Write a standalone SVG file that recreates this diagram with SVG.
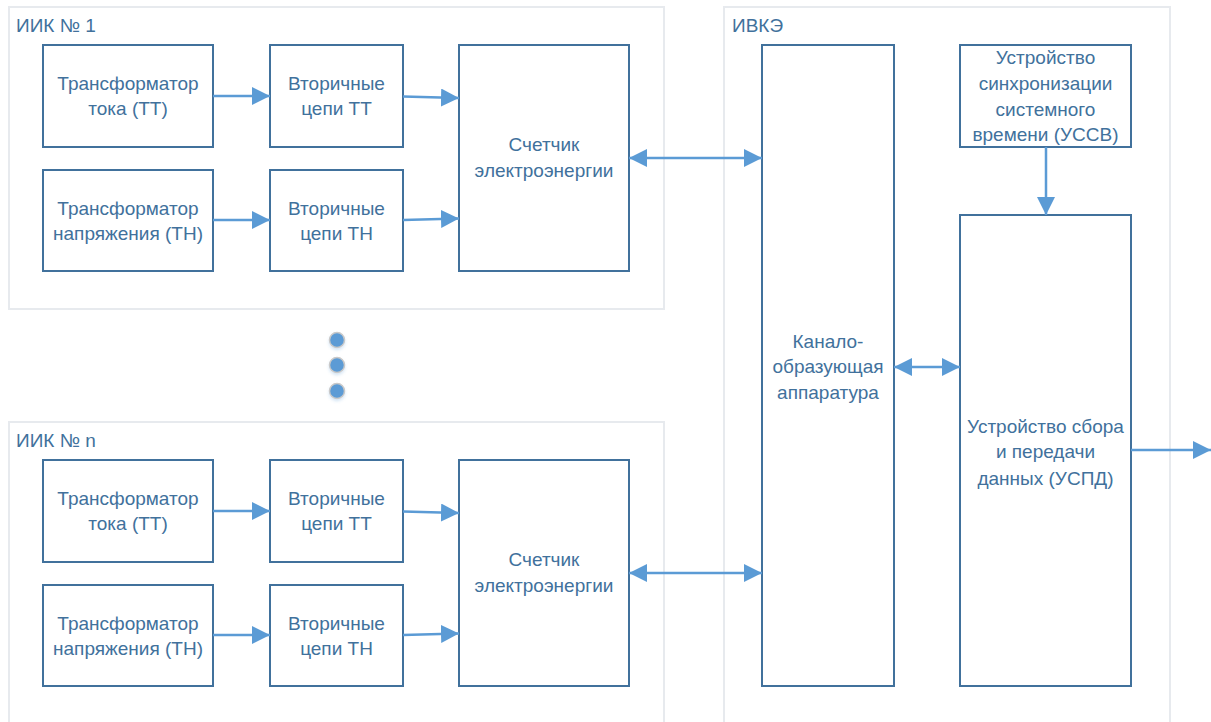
<svg xmlns="http://www.w3.org/2000/svg" width="1211" height="722" viewBox="0 0 1211 722">
<defs>
<style>
.cont{fill:#ffffff;stroke:#e7eaee;stroke-width:2}
.box{fill:#ffffff;stroke:#41719c;stroke-width:2}
.t{font-family:"Liberation Sans",Arial,sans-serif;font-size:19px;fill:#41719c;text-anchor:middle}
.title{font-family:"Liberation Sans",Arial,sans-serif;font-size:19px;fill:#41719c}
.c{stroke:#5b9bd5;stroke-width:2.5;fill:none}
.dot{fill:#5b9bd5;stroke:#c9c9c9;stroke-width:1.5}
</style>
<marker id="ah" markerWidth="18" markerHeight="18" refX="18" refY="9" orient="auto-start-reverse" markerUnits="userSpaceOnUse">
<path d="M0,0 L18,9 L0,18 z" fill="#5b9bd5"/>
</marker>
<filter id="sh" x="-50%" y="-50%" width="200%" height="200%">
<feGaussianBlur in="SourceAlpha" stdDeviation="1.5"/>
<feOffset dx="0" dy="2" result="b"/>
<feFlood flood-color="#5b9bd5" flood-opacity="0.25"/>
<feComposite in2="b" operator="in"/>
<feMerge><feMergeNode/><feMergeNode in="SourceGraphic"/></feMerge>
</filter>
</defs>
<rect width="1211" height="722" fill="#ffffff"/>

<g id="iik1">
<rect class="cont" x="9" y="7" width="655" height="302"/>
<text class="title" x="16" y="32">ИИК № 1</text>
</g>
<g id="iikn">
<rect class="cont" x="9" y="422" width="655" height="310"/>
<text class="title" x="16" y="447">ИИК № n</text>
</g>
<g id="ivke">
<rect class="cont" x="724" y="7" width="446" height="725"/>
<text class="title" x="732" y="32">ИВКЭ</text>
</g>

<g id="tt1"><rect class="box" x="43" y="45" width="170" height="102"/>
<text class="t" x="128" y="90">Трансформатор</text><text class="t" x="128" y="115">тока (ТТ)</text></g>
<g id="vtt1"><rect class="box" x="270" y="45" width="133" height="102"/>
<text class="t" x="336.5" y="90">Вторичные</text><text class="t" x="336.5" y="115">цепи ТТ</text></g>
<g id="tn1"><rect class="box" x="43" y="170" width="170" height="101"/>
<text class="t" x="128" y="215">Трансформатор</text><text class="t" x="128" y="240">напряжения (ТН)</text></g>
<g id="vtn1"><rect class="box" x="270" y="170" width="133" height="101"/>
<text class="t" x="336.5" y="215">Вторичные</text><text class="t" x="336.5" y="240">цепи ТН</text></g>
<g id="sch1"><rect class="box" x="459" y="45" width="170" height="226"/>
<text class="t" x="544" y="151">Счетчик</text><text class="t" x="544" y="177">электроэнергии</text></g>

<g id="ttn"><rect class="box" x="43" y="460" width="170" height="102"/>
<text class="t" x="128" y="505">Трансформатор</text><text class="t" x="128" y="530">тока (ТТ)</text></g>
<g id="vttn"><rect class="box" x="270" y="460" width="133" height="102"/>
<text class="t" x="336.5" y="505">Вторичные</text><text class="t" x="336.5" y="530">цепи ТТ</text></g>
<g id="tnn"><rect class="box" x="43" y="585" width="170" height="101"/>
<text class="t" x="128" y="630">Трансформатор</text><text class="t" x="128" y="655">напряжения (ТН)</text></g>
<g id="vtnn"><rect class="box" x="270" y="585" width="133" height="101"/>
<text class="t" x="336.5" y="630">Вторичные</text><text class="t" x="336.5" y="655">цепи ТН</text></g>
<g id="schn"><rect class="box" x="459" y="460" width="170" height="226"/>
<text class="t" x="544" y="566">Счетчик</text><text class="t" x="544" y="592">электроэнергии</text></g>

<g id="kanal"><rect class="box" x="762" y="45" width="132" height="641"/>
<text class="t" x="828" y="348">Канало-</text><text class="t" x="828" y="373">образующая</text><text class="t" x="828" y="399">аппаратура</text></g>
<g id="ussv"><rect class="box" x="960" y="45" width="171" height="102"/>
<text class="t" x="1045.5" y="64">Устройство</text><text class="t" x="1045.5" y="90">синхронизации</text><text class="t" x="1045.5" y="116">системного</text><text class="t" x="1045.5" y="141">времени (УССВ)</text></g>
<g id="uspd"><rect class="box" x="960" y="215" width="171" height="471"/>
<text class="t" x="1045.5" y="433">Устройство сбора</text><text class="t" x="1045.5" y="458">и передачи</text><text class="t" x="1045.5" y="485">данных (УСПД)</text></g>

<g id="dots" filter="url(#sh)">
<circle class="dot" cx="337" cy="340" r="7.5"/>
<circle class="dot" cx="337" cy="365" r="7.5"/>
<circle class="dot" cx="337" cy="391" r="7.5"/>
</g>

<g id="connectors">
<line class="c" x1="213" y1="96" x2="270" y2="96" marker-end="url(#ah)"/>
<line class="c" x1="403" y1="96.5" x2="459" y2="98" marker-end="url(#ah)"/>
<line class="c" x1="213" y1="220" x2="270" y2="220" marker-end="url(#ah)"/>
<line class="c" x1="403" y1="220" x2="459" y2="218.5" marker-end="url(#ah)"/>
<line class="c" x1="629" y1="158" x2="762" y2="158" marker-start="url(#ah)" marker-end="url(#ah)"/>
<line class="c" x1="213" y1="511" x2="270" y2="511" marker-end="url(#ah)"/>
<line class="c" x1="403" y1="511.5" x2="459" y2="513" marker-end="url(#ah)"/>
<line class="c" x1="213" y1="635" x2="270" y2="635" marker-end="url(#ah)"/>
<line class="c" x1="403" y1="635" x2="459" y2="633.5" marker-end="url(#ah)"/>
<line class="c" x1="629" y1="573" x2="762" y2="573" marker-start="url(#ah)" marker-end="url(#ah)"/>
<line class="c" x1="1046" y1="147" x2="1046" y2="215" marker-end="url(#ah)"/>
<line class="c" x1="894" y1="367" x2="960" y2="367" marker-start="url(#ah)" marker-end="url(#ah)"/>
<line class="c" x1="1131" y1="450" x2="1211" y2="450" marker-end="url(#ah)"/>
</g>
</svg>
